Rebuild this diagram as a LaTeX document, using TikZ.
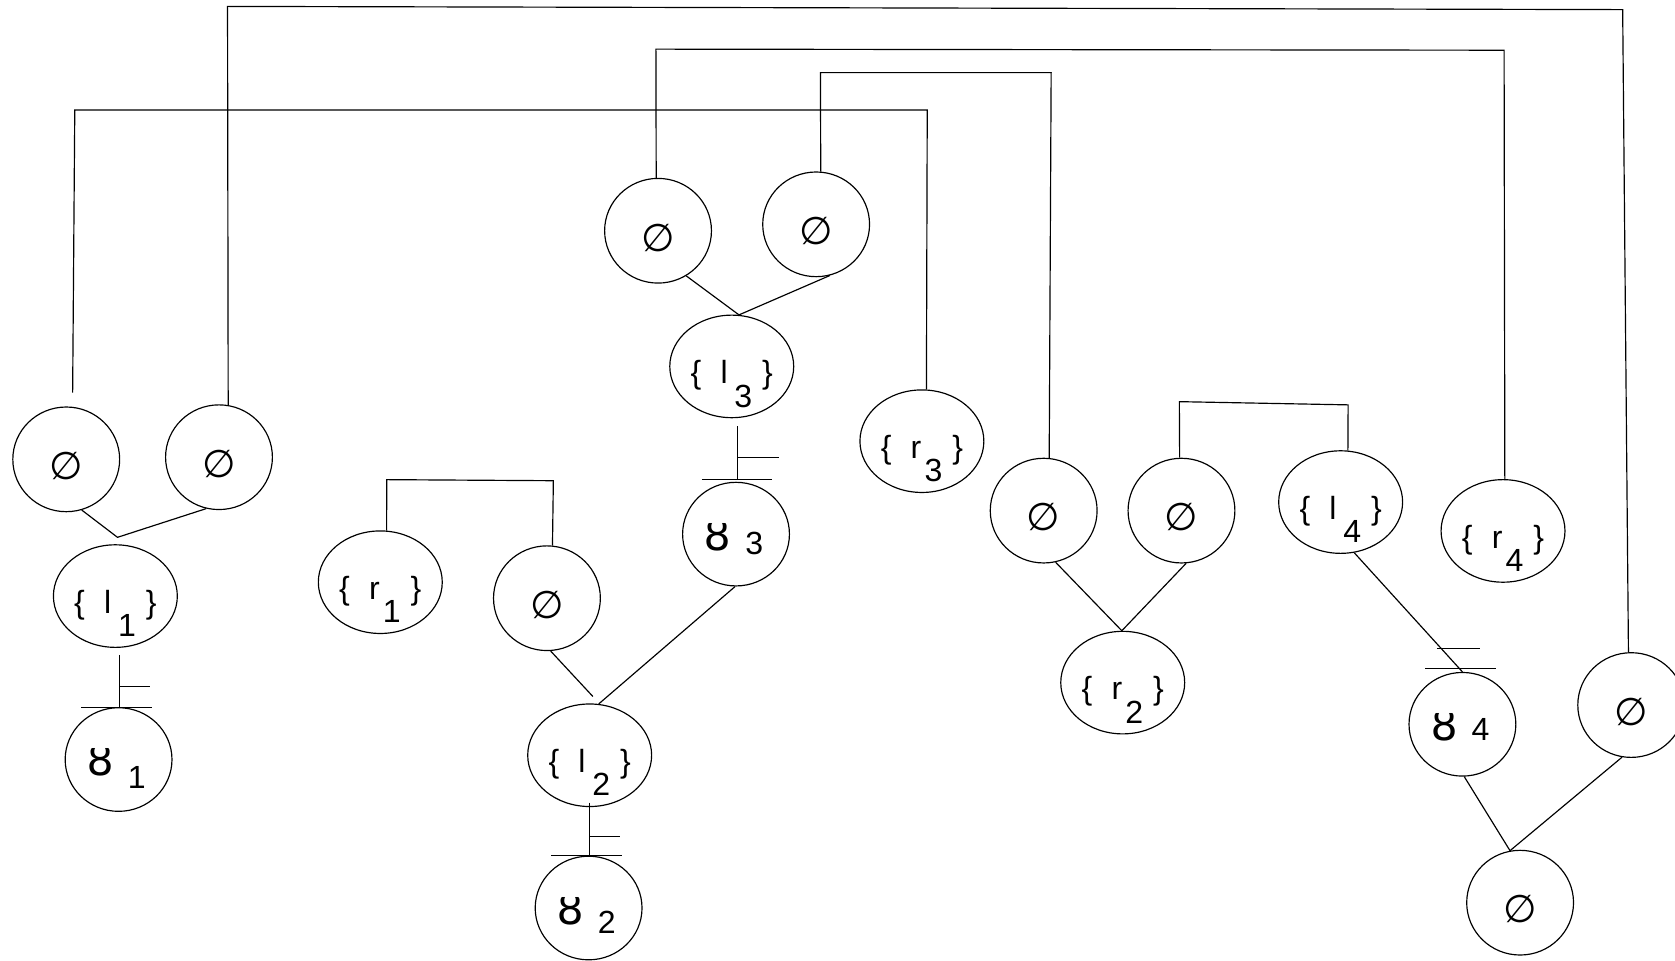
\documentclass[tikz,border=0pt]{standalone}
\usepackage{fontspec}
\setmainfont{Liberation Sans}
\newfontfamily\symfont{DejaVu Sans}
\usetikzlibrary{shapes.geometric,calc}

% set label: { letter  lowered digit }
\newcommand{\setlbl}[2]{\{\hspace{18pt}\makebox[13pt][l]{#1}\raisebox{-22pt}{#2}\hspace{9.3pt}\}}
% leaf label: glyph followed by a (possibly lowered) digit
\newcommand{\leaflbl}[2]{\makebox[34pt][l]{\hspace{-4pt}\symfont\fontsize{40}{46}\selectfont ȣ}\raisebox{-#2pt}{#1}}

\tikzset{
  every path/.style={line width=1.1pt},
  nullset/.style={draw, ellipse, minimum width=100pt, minimum height=98pt,
    inner sep=0pt, text height=38pt, text depth=0pt,
    font=\symfont\fontsize{36}{40}\selectfont},
  setnode/.style={draw, ellipse, minimum width=116pt, minimum height=96pt,
    inner sep=0pt, text height=32pt, text depth=0pt,
    font=\fontsize{30}{36}\selectfont},
  leafnode/.style={draw, ellipse, minimum width=100pt, minimum height=97pt,
    inner sep=0pt, text height=30pt, text depth=0pt,
    font=\fontsize{30}{36}\selectfont},
}

\begin{document}
\begin{tikzpicture}[x=1pt, y=-1pt]
\useasboundingbox (0,0) rectangle (1568,899);

% nodes
\node[nullset] (A) at (62,430) {∅};
\node[nullset] (B) at (205,428) {∅};
\node[setnode] (l1) at (108,558) {\setlbl{l}{1}};
\node[leafnode] (t1) at (111,711) {\leaflbl{1}{12}};
\node[setnode] (r1) at (356,545) {\setlbl{r}{1}};
\node[nullset] (C) at (512,560) {∅};
\node[setnode] (l2) at (552,707) {\setlbl{l}{2}};
\node[leafnode] (t2) at (551,850) {\leaflbl{2}{9}};
\node[leafnode] (t3) at (689,500) {\leaflbl{3}{4}};
\node[setnode] (l3) at (685,343) {\setlbl{l}{3}};
\node[nullset] (D) at (616,216) {∅};
\node[nullset] (E) at (764,210) {∅};
\node[setnode] (r3) at (863,413) {\setlbl{r}{3}};
\node[nullset] (F) at (977,478) {∅};
\node[nullset] (G) at (1106,478) {∅};
\node[setnode] (r2) at (1051,639) {\setlbl{r}{2}};
\node[setnode] (l4) at (1255,470) {\setlbl{l}{4}};
\node[setnode] (r4) at (1407,497) {\setlbl{r}{4}};
\node[leafnode] (t4) at (1369,678) {\leaflbl{4}{0}};
\node[nullset] (H) at (1527,660) {∅};
\node[nullset] (I) at (1423,845) {∅};

% pairs joined below into one node
\coordinate (j1) at (110,503);
\draw (A.-73) -- (j1) -- (B.-104);
\coordinate (j2) at (555,652);
\draw (C.-86) -- (j2);
\draw (t3.-91) -- (l2.80);
\draw (D.-58) -- (l3.82) -- (E.-75);
\draw (F.-77) -- (r2.91) -- (G.-85);
\draw (t4.-88) -- (I.101) -- (H.-100);

% links with bars
\coordinate (s1) at ($(t1.north)+(0.5,-49)$);
\draw (s1) -- ($(t1.north)+(0.5,0)$);
\draw ($(t1.north)+(0.5,-19)$) -- ++(29,0);
\draw ($(t1.north)+(-35,0)$) -- ++(66,0);

\coordinate (s2) at ($(t2.north)+(0.5,-49.5)$);
\draw (s2) -- ($(t2.north)+(0.5,0)$);
\draw ($(t2.north)+(0.5,-18)$) -- ++(29,0);
\draw ($(t2.north)+(-35,0)$) -- ++(66,0);

\coordinate (s3) at ($(t3.north)+(1,-52)$);
\draw (s3) -- ($(t3.north)+(1,-3)$);
\draw ($(t3.north)+(1,-22.5)$) -- ++(39,0);
\draw ($(t3.north)+(-32,-2)$) -- ++(66,0);

\draw (l4.-75) -- (t4.north);
\draw ($(t4.north)+(-24,-22)$) -- ++(40,0);
\draw ($(t4.north)+(-35,-3)$) -- ++(66,0);

% brackets over the top
\coordinate (a0) at ($(A.north)+(6,-13)$);
\coordinate (a1) at (70,103);
\coordinate (a2) at (868,103);
\draw (a0) -- (a1) -- (a2) -- (r3.85);

\coordinate (b1) at (213,6);
\coordinate (b2) at (1519,9);
\draw (B.80) -- (b1) -- (b2) -- (H.93);

\coordinate (d1) at (614,46);
\coordinate (d2) at (1408,47);
\draw (D.92) -- (d1) -- (d2) -- (r4.88);

\coordinate (e1) at (768,68);
\coordinate (e2) at (984,68);
\draw (E.85) -- (e1) -- (e2) -- (F.84);

\coordinate (c1) at (362,449);
\coordinate (c2) at (518,450);
\draw (r1.83) -- (c1) -- (c2) -- (C.84);

\coordinate (g1) at (1104,376);
\coordinate (g2) at (1262,379);
\draw (G.92) -- (g1) -- (g2) -- (l4.82);
\end{tikzpicture}
\end{document}
